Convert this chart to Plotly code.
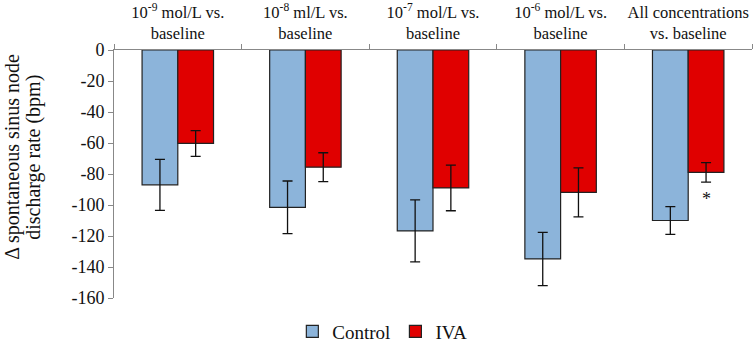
import plotly.graph_objects as go

categories = ["10<sup>-9</sup> mol/L vs.<br>baseline", "10<sup>-8</sup> ml/L vs.<br>baseline",
              "10<sup>-7</sup> mol/L vs.<br>baseline", "10<sup>-6</sup> mol/L vs.<br>baseline",
              "All concentrations<br>vs. baseline"]
control = [-87, -101.5, -116.7, -134.8, -110]
control_err = [16.5, 17, 20, 17.2, 9]
iva = [-60.3, -75.6, -89, -91.9, -79]
iva_err = [8.3, 9.3, 14.7, 15.8, 6.3]
yticks = [0, -20, -40, -60, -80, -100, -120, -140, -160]
ytitle_lines = ["Δ spontaneous sinus node", "discharge rate (bpm)"]

FONT = "Times New Roman, Liberation Serif, DejaVu Serif, serif"

fig = go.Figure()
fig.add_trace(go.Bar(x=categories, y=control, name="Control",
                     marker=dict(color="#8cb4da", line=dict(color="#222222", width=1.2)),
                     error_y=dict(type="data", array=control_err, color="#111111", thickness=1.3, width=5)))
fig.add_trace(go.Bar(x=categories, y=iva, name="IVA",
                     marker=dict(color="#e00000", line=dict(color="#222222", width=1.2)),
                     error_y=dict(type="data", array=iva_err, color="#111111", thickness=1.3, width=5)))

fig.add_annotation(x=categories[4], y=-96, xshift=18, text="*", showarrow=False,
                   font=dict(family=FONT, size=18, color="#111111"))
for i, (line, xp) in enumerate(zip(ytitle_lines, [-0.159, -0.1275])):
    fig.add_annotation(xref="paper", yref="paper", x=xp, y=0.568, xanchor="center", yanchor="middle",
                       text=line, textangle=-90, showarrow=False,
                       font=dict(family=FONT, size=20, color="#111111"))

fig.update_layout(
    width=754, height=342,
    margin=dict(l=114, r=2, t=50, b=44, autoexpand=False),
    plot_bgcolor="white", paper_bgcolor="white",
    barmode="group", bargap=0.44, bargroupgap=0,
    font=dict(family=FONT, size=17, color="#111111"),
    showlegend=True,
    legend=dict(orientation="h", x=0.4206, xanchor="center", y=-0.135, yanchor="middle",
                font=dict(family=FONT, size=19, color="#111111"), itemwidth=30, tracegroupgap=0),
    xaxis=dict(side="top", type="category", tickson="boundaries", ticks="outside", ticklen=5,
               tickangle=0, ticklabelstandoff=3,
               tickcolor="#888888", showline=True, linecolor="#888888", linewidth=1, automargin=False,
               tickfont=dict(family=FONT, size=16.5, color="#111111"), showgrid=False),
    yaxis=dict(range=[-160, 0], tickvals=yticks, ticktext=[str(v) for v in yticks],
               ticks="outside", ticklen=5, tickcolor="#888888", showline=True, automargin=False,
               linecolor="#888888", linewidth=1, showgrid=False, zeroline=False,
               tickfont=dict(family=FONT, size=18, color="#111111")),
)

fig.write_html("out.html", config={"displayModeBar": False},
               post_script="document.body.style.margin='0';document.body.style.overflow='hidden';")
